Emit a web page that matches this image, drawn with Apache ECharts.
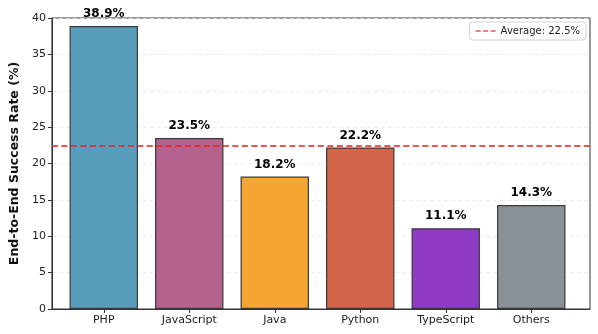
<!DOCTYPE html>
<html>
<head>
<meta charset="utf-8">
<script src="https://cdn.jsdelivr.net/npm/echarts@6/dist/echarts.min.js"></script>
<style>
  html, body { margin: 0; padding: 0; background: #fff; }
  #chart { width: 598px; height: 334px; }
</style>
</head>
<body>
<div id="chart"></div>
<script>
  // data
  var languages = ['PHP', 'JavaScript', 'Java', 'Python', 'TypeScript', 'Others'];
  var successRates = [38.9, 23.5, 18.2, 22.2, 11.1, 14.3];
  var barColors = ['#589EBC', '#B5628E', '#F4A534', '#D2654A', '#8E3AC5', '#899197'];
  var averageRate = 22.5;

  var chart = echarts.init(document.getElementById('chart'));

  var barData = successRates.map(function (v, i) {
    return { value: v, itemStyle: { color: barColors[i] } };
  });

  // grid 0 = axes frame, grid 1 = bars (narrower so the outer bars get matplotlib-like margins)
  chart.setOption({
    animation: false,
    textStyle: { fontFamily: 'DejaVu Sans' },
    grid: [
      { left: 45, right: 8, top: 18, bottom: 25, show: true, borderColor: '#333', borderWidth: 1 },
      { left: 61, right: 24, top: 18, bottom: 25 }
    ],
    legend: {
      right: 12, top: 22,
      data: ['Average: ' + averageRate + '%'],
      icon: 'path://M0,0h6v2h-6z M9,0h6v2h-6z M18,0h6v2h-6z',
      itemWidth: 20, itemHeight: 2, itemGap: 8,
      textStyle: { fontSize: 10, color: '#222' },
      backgroundColor: '#fff',
      borderColor: '#d0d0d0', borderWidth: 1, borderRadius: 3,
      padding: [4, 6]
    },
    xAxis: [
      {
        gridIndex: 0, type: 'value', min: 0, max: 1,
        splitLine: { show: false },
        axisLine: { show: true, onZero: false, lineStyle: { color: '#333' } },
        axisTick: { show: false },
        axisLabel: { show: false }
      },
      {
        gridIndex: 1, type: 'category', data: languages,
        axisLine: { show: false },
        axisTick: { show: true, alignWithLabel: true, length: 4, lineStyle: { color: '#333' } },
        axisLabel: { fontSize: 11, color: '#222', margin: 6 }
      }
    ],
    yAxis: [
      {
        gridIndex: 0, type: 'value',
        min: 0, max: 40, interval: 5,
        name: 'End-to-End Success Rate (%)',
        nameLocation: 'middle', nameGap: 26,
        nameTextStyle: { fontSize: 12.5, fontWeight: 'bold', color: '#111' },
        axisLine: { show: true, onZero: false, lineStyle: { color: '#333' } },
        axisTick: { show: true, length: 4, lineStyle: { color: '#333' } },
        axisLabel: { fontSize: 11, color: '#222', margin: 6 },
        splitLine: { show: true, lineStyle: { color: '#e6e6e6', type: [4, 3], width: 0.8 } }
      },
      {
        gridIndex: 1, type: 'value', min: 0, max: 40, interval: 5,
        axisLine: { show: false }, axisTick: { show: false },
        axisLabel: { show: false }, splitLine: { show: false }
      }
    ],
    series: [
      {
        type: 'bar',
        xAxisIndex: 1, yAxisIndex: 1,
        barWidth: '80%',
        data: barData,
        itemStyle: { borderColor: '#3a3a3a', borderWidth: 1.2 },
        label: {
          show: true, position: 'top', distance: 6,
          fontSize: 12, fontWeight: 'bold', color: '#000',
          formatter: function (p) { return p.value.toFixed(1) + '%'; }
        }
      },
      {
        name: 'Average: ' + averageRate + '%',
        type: 'line',
        xAxisIndex: 0, yAxisIndex: 0,
        data: [],
        itemStyle: { color: 'rgba(238,40,40,0.8)' },
        lineStyle: { color: 'rgba(238,40,40,0.8)', type: [6, 3], width: 1.8 },
        markLine: {
          silent: true,
          symbol: 'none',
          label: { show: false },
          lineStyle: { color: 'rgba(235,35,35,0.78)', type: [6, 3.5], width: 1.8 },
          data: [{ yAxis: averageRate }]
        }
      }
    ]
  });
</script>
</body>
</html>
